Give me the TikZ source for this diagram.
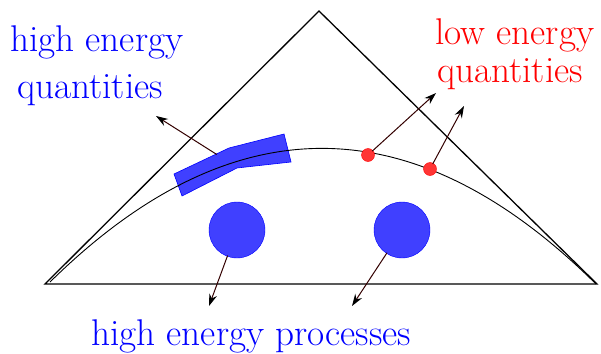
\documentclass[tikz,border=0pt]{standalone}
\usepackage{xcolor}
\usetikzlibrary{arrows.meta,positioning}
\definecolor{blobblue}{HTML}{4040FF}
\definecolor{dotred}{HTML}{FF3535}
\definecolor{pointerbrown}{HTML}{330000}

\begin{document}
\begin{tikzpicture}[
  x=1pt,y=-1pt,
  >=Stealth,
  blob/.style={circle,draw=blue,fill=blobblue,inner sep=0pt,minimum size=56pt},
  hotdot/.style={circle,draw=red,fill=dotred,inner sep=0pt,minimum size=13pt},
  pointer/.style={pointerbrown,line width=1pt,-{Stealth[length=12pt,width=8pt,black]},shorten <=-1pt},
  label/.style={anchor=base west,inner sep=0pt,font=\fontsize{37.2}{40}\selectfont}
]
  \useasboundingbox (0,0) rectangle (601,353);
  % triangle and the curve inside it
  \coordinate (apex) at (319,11);
  \coordinate (left) at (45,284);
  \coordinate (right) at (597,284);
  \draw[line width=1.3pt,line join=miter] (left) -- (apex) -- (right) -- cycle;
  \fill[blobblue,draw=blue,line width=.6pt]
    (174,174) -- (229,148) -- (284,134) -- (291,162) -- (237,168) -- (182,196) -- cycle;
  \draw[line width=.9pt] (50,282) .. controls (232,103) and (414,104) .. (596,284);

  \node[hotdot] (hot1) at (368,155) {};
  \node[hotdot] (hot2) at (430,169) {};
  \node[blob] (lproc) at (237,230) {};
  \node[blob] (rproc) at (402,230) {};

  % labels
  \node[label,text=blue] (hiq1) at (10,52) {high energy};
  \node[label,text=blue] (hiq2) at (17,98) {quantities};
  \node[label,text=red] (loq1) at (435,45) {low energy};
  \node[label,text=red] (loq2) at (437,82) {quantities};
  \node[label,text=blue] (hiproc) at (91,345) {high energy processes};

  % pointers
  \coordinate (band) at (216,154);
  \coordinate (bandtip) at (156,116);
  \coordinate (tip1) at (436,93);
  \coordinate (tip2) at (464,106);
  \coordinate (ltip) at (209,306);
  \coordinate (rtip) at (352,306);
  \draw[pointer] (band) -- (bandtip);
  \draw[pointer] (hot1) -- (tip1);
  \draw[pointer] (hot2) -- (tip2);
  \draw[pointer] (lproc) -- (ltip);
  \draw[pointer] (rproc) -- (rtip);
\end{tikzpicture}
\end{document}
